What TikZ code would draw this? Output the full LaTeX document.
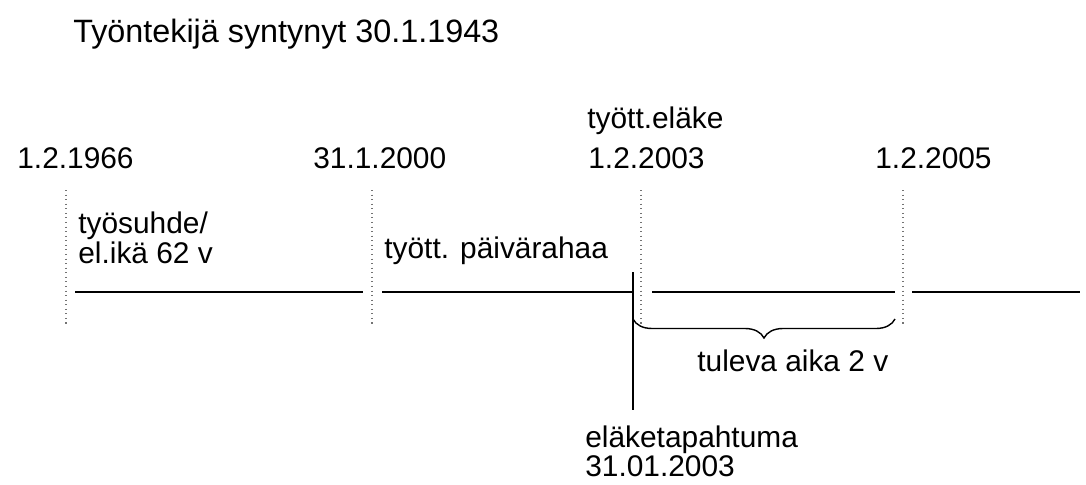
\documentclass[tikz,border=0pt]{standalone}
\usepackage{fontspec}
\setmainfont{Liberation Sans}
\usepackage{tikz}
\usetikzlibrary{positioning,decorations.pathreplacing}
\tikzset{
	>=stealth,
	teksti/.style={
		anchor=base west,
		inner sep=0pt,
		font=\fontsize{17}{20}\selectfont},
	otsikko/.style={teksti, font=\fontsize{18.4}{22}\selectfont},
	aikaraja/.style={draw=black!55, dotted, line width=0.6pt},
	jana/.style={draw, line width=0.8pt},
	decoration={brace, mirror, amplitude=0.38cm},
	kaari/.style={decorate, draw, line width=0.8pt},
}
\begin{document}
\begin{tikzpicture}[x=0.02cm, y=-0.02cm]
	\useasboundingbox (0,0) rectangle (1086,484);
	% otsikko
	\node[otsikko] (syntynyt) at (73,42) {Työntekijä syntynyt 30.1.1943};
	% päivämäärät
	\node[teksti] (d1966) at (17,168) {1.2.1966};
	\node[teksti] (d2000) at (313,168) {31.1.2000};
	\node[teksti] (elake) at (587,128) {tyött.eläke};
	\node[teksti] (d2003) at (588,168) {1.2.2003};
	\node[teksti] (d2005) at (875,168) {1.2.2005};
	% jaksot
	\node[teksti] (suhde) at (78,233) {työsuhde/};
	\node[teksti] (ika) at (78,263) {el.ikä 62 v};
	\node[teksti] (raha) at (384,258) {tyött. päivärahaa};
	\node[teksti] (tuleva) at (697,371) {tuleva aika 2 v};
	\node[teksti] (tapahtuma) at (585,447) {eläketapahtuma};
	\node[teksti] (tpvm) at (585,476) {31.01.2003};
	% rajat
	\foreach \x [count=\i] in {66,372,641,903}
	{
		\coordinate (r\i a) at (\x,190);
		\coordinate (r\i b) at (\x,325);
		\draw[aikaraja] (r\i a) -- (r\i b);
	}
	% aikajana
	\foreach \a/\b [count=\i] in {75/363,382/633,652/895,912/1080}
	{
		\coordinate (j\i a) at (\a,292);
		\coordinate (j\i b) at (\b,292);
		\draw[jana] (j\i a) -- (j\i b);
	}
	\coordinate (ylos) at (633,272);
	\coordinate (alas) at (633,410);
	\draw[jana] (ylos) -- (alas);
	% tuleva aika
	\coordinate (k1) at (633,319);
	\coordinate (k2) at (895,319);
	\draw[kaari] (k1) -- (k2);
\end{tikzpicture}
\end{document}
